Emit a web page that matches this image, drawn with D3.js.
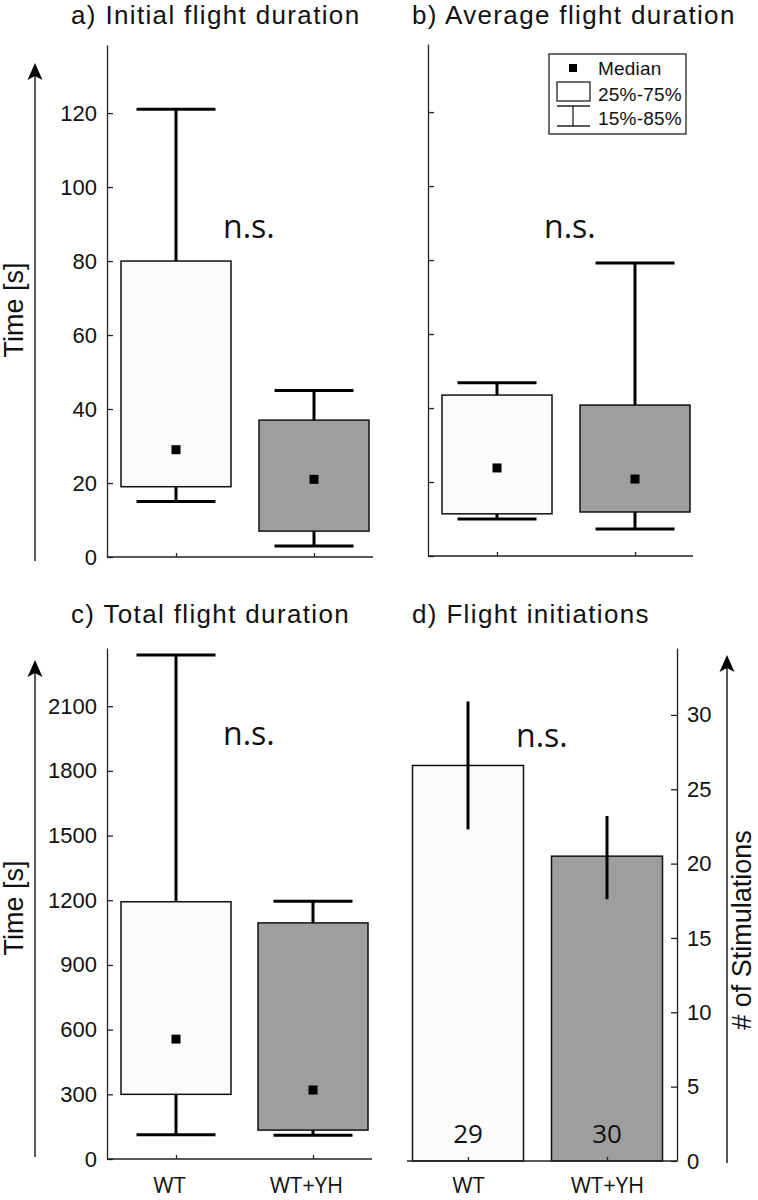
<!DOCTYPE html>
<html><head><meta charset="utf-8">
<script src="https://cdn.jsdelivr.net/npm/d3@7"></script>
<style>body{margin:0;background:#fff}svg{display:block}</style>
</head><body>
<script>
// ---- data ----
const categories = ["WT", "WT+YH"];
const fills = ["#fbfbfb", "#9e9e9e"];

const initialLow = [15, 3];
const initialQ1 = [19, 7];
const initialMedian = [29, 21];
const initialQ3 = [80, 37];
const initialHigh = [121, 45];

const averageLow = [10, 7.3];
const averageQ1 = [11.4, 11.9];
const averageMedian = [23.8, 20.8];
const averageQ3 = [43.5, 40.8];
const averageHigh = [46.8, 79.2];

const totalLow = [112, 110];
const totalQ1 = [300, 134];
const totalMedian = [556, 320];
const totalQ3 = [1193, 1095];
const totalHigh = [2337, 1196];

const initMean = [26.6, 20.5];
const initErrLow = [22.3, 17.6];
const initErrHigh = [30.9, 23.2];
const initN = [29, 30];

const ticksTime = [0, 20, 40, 60, 80, 100, 120];
const ticksTotal = [0, 300, 600, 900, 1200, 1500, 1800, 2100];
const ticksInit = [0, 5, 10, 15, 20, 25, 30];

const titles = ["a) Initial flight duration", "b) Average flight duration", "c) Total flight duration", "d) Flight initiations"];
const legendLabels = ["Median", "25%-75%", "15%-85%"];

// ---- drawing ----
const svg = d3.select("body").append("svg").attr("width", 758).attr("height", 1200);
const SANS = "'Liberation Sans', Arial, sans-serif";
const OPEN = "'Open Sans', sans-serif";
const AX = "#222";

function styleAxis(g) {
  g.selectAll("path,line").attr("stroke", AX).attr("stroke-width", 1.3);
  g.selectAll("text").attr("font-family", SANS).attr("font-size", 22).attr("fill", "#111");
}

function title(x, y, t) {
  svg.append("text").attr("x", x).attr("y", y).text(t)
    .attr("font-family", SANS).attr("font-size", 26).attr("letter-spacing", 1.35).attr("fill", "#111");
}

function boxPanel(o) {
  const y = d3.scaleLinear().domain(o.ydom).range([o.y0, o.y1]);
  const x = d3.scalePoint().domain(categories).range(o.centers);
  const g = svg.append("g");
  const ya = g.append("g").attr("transform", `translate(${o.xl},0)`)
    .call(d3.axisLeft(y).tickValues(o.ticks).tickSizeInner(-6).tickSizeOuter(0).tickPadding(10)
      .tickFormat(o.labels ? d3.format("d") : () => ""));
  styleAxis(ya);
  const xa = g.append("g").attr("transform", `translate(0,${o.y0})`);
  xa.append("line").attr("x1", o.xl).attr("x2", o.xr).attr("y1", 0).attr("y2", 0).attr("stroke", AX).attr("stroke-width", 1.3);
  const xax = xa.append("g").call(d3.axisBottom(x).tickSizeInner(-4).tickSizeOuter(0).tickPadding(18)
    .tickFormat(o.xlabels ? d => d : () => ""));
  xax.select(".domain").remove();
  styleAxis(xax);
  xax.selectAll("text").attr("font-family", OPEN).attr("font-size", 22).attr("dx", -7);
  const bw = 110, cw = 79;
  categories.forEach((c, i) => {
    const cx = x(c);
    const ln = (x1, x2, y1, y2) => g.append("line").attr("x1", x1).attr("x2", x2).attr("y1", y1).attr("y2", y2)
      .attr("stroke", "#000").attr("stroke-width", 3);
    ln(cx, cx, y(o.low[i]), y(o.q1[i]));
    ln(cx, cx, y(o.q3[i]), y(o.high[i]));
    ln(cx - cw / 2, cx + cw / 2, y(o.low[i]), y(o.low[i]));
    ln(cx - cw / 2, cx + cw / 2, y(o.high[i]), y(o.high[i]));
    g.append("rect").attr("x", cx - bw / 2).attr("width", bw).attr("y", y(o.q3[i])).attr("height", y(o.q1[i]) - y(o.q3[i]))
      .attr("fill", fills[i]).attr("stroke", "#111").attr("stroke-width", 1.5);
    g.append("rect").attr("x", cx - 4.5).attr("y", y(o.median[i]) - 4.5).attr("width", 9).attr("height", 9).attr("fill", "#000");
  });
  g.append("text").attr("x", o.ns[0]).attr("y", o.ns[1]).text("n.s.").attr("font-family", OPEN).attr("font-size", 32).attr("fill", "#111");
  title(o.title[0], o.title[1], o.titleText);
  return { x, y, g };
}

function yArrow(x, yb, yt, label, ly, lx) {
  svg.append("line").attr("x1", x).attr("x2", x).attr("y1", yb).attr("y2", yt + 8)
    .attr("stroke", "#000").attr("stroke-width", 1.3);
  svg.append("path").attr("d", `M${x},${yt} L${x + 7.5},${yt + 17} L${x},${yt + 13} L${x - 7.5},${yt + 17} Z`).attr("fill", "#000");
  svg.append("text").attr("transform", `translate(${lx},${ly}) rotate(-90)`).attr("text-anchor", "middle")
    .text(label).attr("font-family", SANS).attr("font-size", 27).attr("fill", "#111");
}

boxPanel({ ydom: [0, 138.4], y0: 557, y1: 45, xl: 107, xr: 373, centers: [176, 314], ticks: ticksTime, labels: true,
  low: initialLow, q1: initialQ1, median: initialMedian, q3: initialQ3, high: initialHigh,
  ns: [223, 238], title: [71, 24], titleText: titles[0] });
boxPanel({ ydom: [0, 138.4], y0: 556, y1: 44, xl: 428, xr: 693, centers: [497, 635], ticks: ticksTime, labels: false,
  low: averageLow, q1: averageQ1, median: averageMedian, q3: averageQ3, high: averageHigh,
  ns: [544, 238], title: [412, 24], titleText: titles[1] });
boxPanel({ ydom: [0, 2370], y0: 1159, y1: 648, xl: 107, xr: 372, centers: [176, 313], ticks: ticksTotal, labels: true, xlabels: true,
  low: totalLow, q1: totalQ1, median: totalMedian, q3: totalQ3, high: totalHigh,
  ns: [223, 745], title: [71, 623], titleText: titles[2] });

yArrow(35, 561, 63, "Time [s]", 310, 23);
yArrow(35, 1157, 660, "Time [s]", 908, 23);

// legend
const lg = svg.append("g");
lg.append("rect").attr("x", 549).attr("y", 54).attr("width", 137).attr("height", 80).attr("fill", "#fff").attr("stroke", "#222").attr("stroke-width", 1.3);
lg.append("rect").attr("x", 569).attr("y", 64).attr("width", 8).attr("height", 8).attr("fill", "#000");
lg.append("rect").attr("x", 557).attr("y", 82).attr("width", 33).attr("height", 19).attr("fill", "#fff").attr("stroke", "#222").attr("stroke-width", 1.3);
lg.append("line").attr("x1", 557).attr("x2", 590).attr("y1", 106).attr("y2", 106).attr("stroke", "#222").attr("stroke-width", 1.3);
lg.append("line").attr("x1", 557).attr("x2", 590).attr("y1", 126).attr("y2", 126).attr("stroke", "#222").attr("stroke-width", 1.3);
lg.append("line").attr("x1", 573).attr("x2", 573).attr("y1", 106).attr("y2", 126).attr("stroke", "#222").attr("stroke-width", 1.3);
legendLabels.forEach((t, i) => {
  lg.append("text").attr("x", 598).attr("y", [68, 94, 118][i]).attr("dy", "0.35em").text(t)
    .attr("font-family", SANS).attr("font-size", 19).attr("letter-spacing", 0.2).attr("fill", "#111");
});

// panel d
{
  const y = d3.scaleLinear().domain([0, 34.5]).range([1161, 648]);
  const x = d3.scalePoint().domain(categories).range([468, 607]);
  const g = svg.append("g");
  const bw = 111;
  categories.forEach((c, i) => {
    const cx = x(c);
    g.append("rect").attr("x", cx - bw / 2).attr("width", bw).attr("y", y(initMean[i])).attr("height", y(0) - y(initMean[i]))
      .attr("fill", fills[i]).attr("stroke", "#111").attr("stroke-width", 1.5);
    g.append("line").attr("x1", cx).attr("x2", cx).attr("y1", y(initErrLow[i])).attr("y2", y(initErrHigh[i])).attr("stroke", "#000").attr("stroke-width", 3);
    g.append("text").attr("x", cx).attr("y", 1143).attr("text-anchor", "middle").text(initN[i])
      .attr("font-family", OPEN).attr("font-size", 26).attr("fill", "#111");
  });
  const ya = g.append("g").attr("transform", "translate(677,0)")
    .call(d3.axisRight(y).tickValues(ticksInit).tickSizeInner(-6).tickSizeOuter(0).tickPadding(10));
  styleAxis(ya);
  g.append("line").attr("x1", 407).attr("x2", 677).attr("y1", 1161).attr("y2", 1161).attr("stroke", AX).attr("stroke-width", 1.3);
  const xax = g.append("g").attr("transform", "translate(0,1161)")
    .call(d3.axisBottom(x).tickSizeInner(-4).tickSizeOuter(0).tickPadding(16));
  xax.select(".domain").remove();
  styleAxis(xax);
  xax.selectAll("text").attr("font-family", OPEN).attr("font-size", 22);
  g.append("text").attr("x", 516).attr("y", 747).text("n.s.").attr("font-family", OPEN).attr("font-size", 32).attr("fill", "#111");
  title(412, 623, titles[3]);
  yArrow(727, 1163, 655, "# of Stimulations", 930, 751);
}
</script>
</body></html>
